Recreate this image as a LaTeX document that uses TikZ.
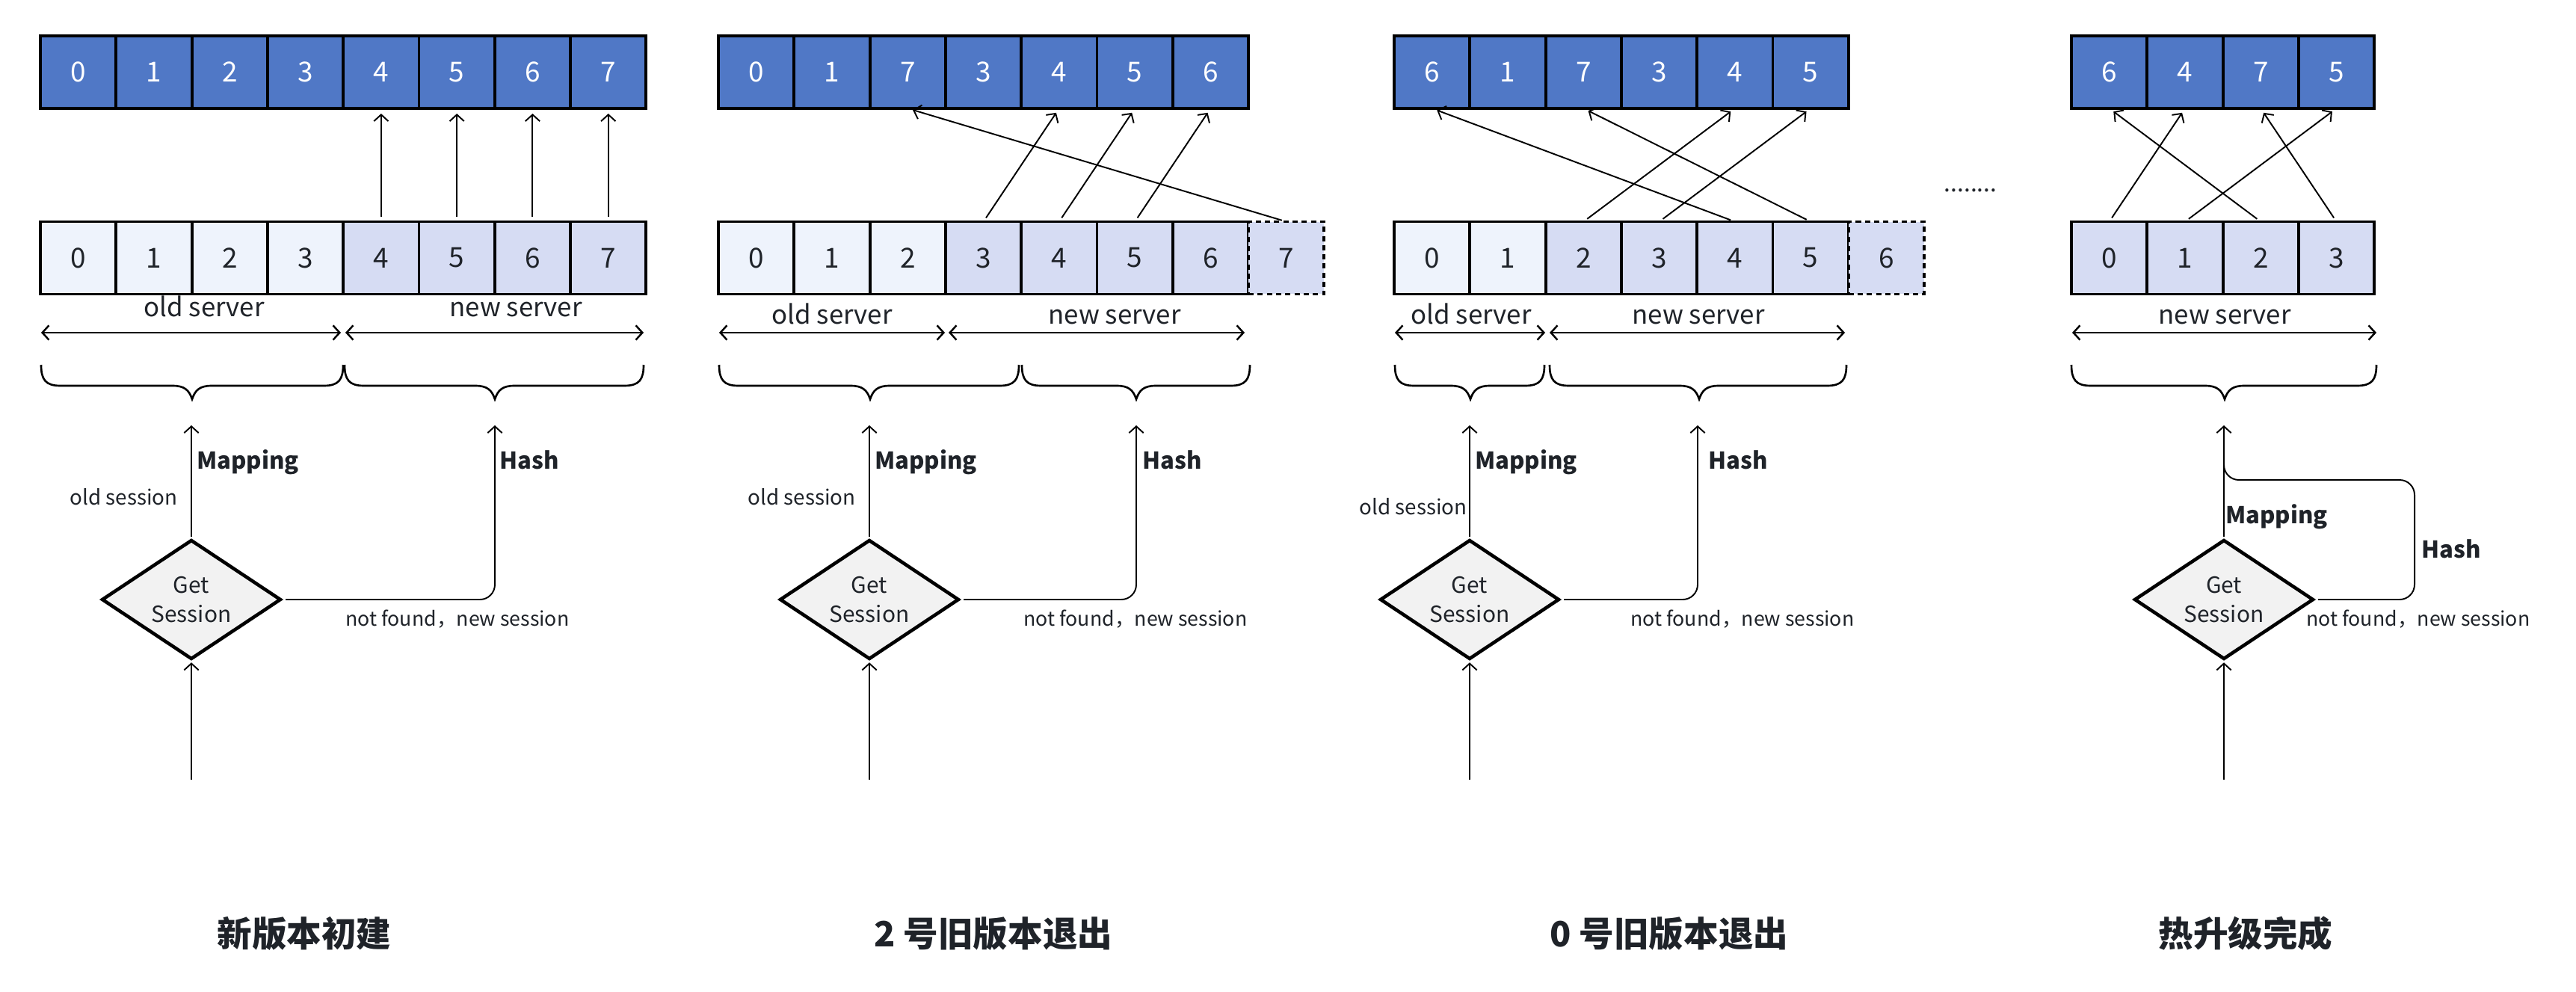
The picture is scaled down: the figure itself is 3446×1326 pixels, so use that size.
\documentclass[tikz,border=0pt]{standalone}
\usepackage{fontspec}
\setmainfont{Noto Sans CJK SC}
\usetikzlibrary{arrows.meta,shapes.geometric}
\definecolor{topblue}{HTML}{5078C6}
\definecolor{oldcell}{HTML}{EEF3FC}
\definecolor{newcell}{HTML}{D6DCF3}
\definecolor{diafill}{HTML}{F2F2F2}
\definecolor{ink}{HTML}{1F2329}
\tikzset{
  cell/.style={rectangle, draw=black, line width=2.2pt, minimum width=2.026cm, minimum height=1.94cm, inner sep=0pt, outer sep=0pt, font=\fontsize{21}{21}\selectfont},
  topcell/.style={cell, fill=topblue, text=white},
  oldc/.style={cell, fill=oldcell, text=ink},
  newc/.style={cell, fill=newcell, text=ink},
  dashc/.style={cell, fill=newcell, text=ink, dash pattern=on 4pt off 3pt},
  conn/.style={line width=1.1pt, -{Straight Barb[length=5pt,width=11pt]}},
  dbl/.style={line width=1.4pt, {Straight Barb[length=5pt,width=11pt]}-{Straight Barb[length=5pt,width=11pt]}},
  brc/.style={line width=1.5pt},
  decision/.style={diamond, draw=black, line width=2.6pt, fill=diafill, minimum width=4.76cm, minimum height=3.16cm, inner sep=0pt, outer sep=0pt, shape aspect=1.5, align=center, text=ink, font=\fontsize{17}{22.7}\selectfont},
  lab/.style={inner sep=0pt, text=ink, font=\fontsize{15.8}{19}\selectfont},
  nf/.style={inner sep=0pt, text=ink, font=\fontsize{15.2}{18}\selectfont},
  srv/.style={inner sep=0pt, text=ink, font=\fontsize{19.8}{22}\selectfont},
  bl/.style={inner sep=0pt, text=ink, font=\fontsize{17.7}{21}\selectfont\bfseries},
  ttl/.style={inner sep=0pt, text=ink, font=\fontsize{26.5}{30}\selectfont\bfseries},
}
\newcommand\mybrace[3]{\draw[brc] (#1,488) .. controls (#1,508) and (#1+6,516) .. (#1+26,516) -- (#3-26,516) .. controls (#3-10,516) and (#3-4,522) .. (#3,534) .. controls (#3+4,522) and (#3+10,516) .. (#3+26,516) -- (#2-26,516) .. controls (#2-6,516) and (#2,508) .. (#2,488);}
\begin{document}
\begin{tikzpicture}[x=0.02cm,y=-0.02cm]
\useasboundingbox[fill=white] (0,0) rectangle (3446,1326);

% ---------------- Panel 1 ----------------
\foreach \lab [count=\i from 0] in {0,1,2,3,4,5,6,7}
  \node[topcell] (p1t\i) at ({54+(\i+0.5)*101.3},96.5) {\lab};
\foreach \lab/\st [count=\i from 0] in {0/oldc,1/oldc,2/oldc,3/oldc,4/newc,5/newc,6/newc,7/newc}
  \node[\st] (p1b\i) at ({54+(\i+0.5)*101.3},345) {\lab};
\foreach \a/\b in {4/4,5/5,6/6,7/7}
  \draw[conn, shorten <=3.5pt, shorten >=4pt] (p1b\a.north) -- (p1t\b.south);
\node[srv, anchor=base] (p1old) at (273,423) {old server};
\node[srv, anchor=base] (p1new) at (690,423) {new server};
\coordinate (p1a0) at (55,445); \coordinate (p1a1) at (456,445);
\coordinate (p1a2) at (462,445); \coordinate (p1a3) at (861,445);
\draw[dbl] (p1a0) -- (p1a1);
\draw[dbl] (p1a2) -- (p1a3);
\mybrace{55}{459}{257}
\mybrace{461}{861}{662}
\node[decision] (d1) at (256,802) {Get\\Session};
\coordinate (m1) at (256,569);
\coordinate (h1) at (662,569);
\coordinate (s1) at (256,1043);
\draw[conn, shorten <=3pt] (d1.north) -- (m1);
\draw[conn, shorten <=4pt, rounded corners=0.4cm] (d1.east) -- (d1.east -| h1) -- (h1);
\draw[conn, shorten >=3pt] (s1) -- (d1.south);
\node[bl, anchor=base west] (p1map) at (263,627) {Mapping};
\node[bl, anchor=base west] (p1hash) at (668,627) {Hash};
\node[lab, anchor=base east] (p1os) at (238,675) {old session};
\node[nf, anchor=base west] (p1nf) at (462,837) {not found，new session};
\node[ttl] (p1title) at (407,1249) {新版本初建};

% ---------------- Panel 2 ----------------
\foreach \lab [count=\i from 0] in {0,1,7,3,4,5,6}
  \node[topcell] (p2t\i) at ({961+(\i+0.5)*101.3},96.5) {\lab};
\foreach \lab/\st [count=\i from 0] in {0/oldc,1/oldc,2/oldc,3/newc,4/newc,5/newc,6/newc,7/dashc}
  \node[\st] (p2b\i) at ({961+(\i+0.5)*101.3},345) {\lab};
\foreach \a/\b in {3/4,4/5,5/6,7/2}
  \draw[conn, shorten <=3.5pt, shorten >=4pt] (p2b\a.north) -- (p2t\b.south);
\node[srv, anchor=base] (p2old) at (1113,433) {old server};
\node[srv, anchor=base] (p2new) at (1491,433) {new server};
\coordinate (p2a0) at (962,445); \coordinate (p2a1) at (1264,445);
\coordinate (p2a2) at (1269,445); \coordinate (p2a3) at (1665,445);
\draw[dbl] (p2a0) -- (p2a1);
\draw[dbl] (p2a2) -- (p2a3);
\mybrace{962}{1363}{1164}
\mybrace{1367}{1672}{1520}
\node[decision] (d2) at (1163,802) {Get\\Session};
\coordinate (m2) at (1163,569);
\coordinate (h2) at (1520,569);
\coordinate (s2) at (1163,1043);
\draw[conn, shorten <=3pt] (d2.north) -- (m2);
\draw[conn, shorten <=4pt, rounded corners=0.4cm] (d2.east) -- (d2.east -| h2) -- (h2);
\draw[conn, shorten >=3pt] (s2) -- (d2.south);
\node[bl, anchor=base west] (p2map) at (1170,627) {Mapping};
\node[bl, anchor=base west] (p2hash) at (1528,627) {Hash};
\node[lab, anchor=base east] (p2os) at (1145,675) {old session};
\node[nf, anchor=base west] (p2nf) at (1369,837) {not found，new session};
\node[ttl] (p2title) at (1329,1249) {2 号旧版本退出};

% ---------------- Panel 3 ----------------
\foreach \lab [count=\i from 0] in {6,1,7,3,4,5}
  \node[topcell] (p3t\i) at ({1865+(\i+0.5)*101.3},96.5) {\lab};
\foreach \lab/\st [count=\i from 0] in {0/oldc,1/oldc,2/newc,3/newc,4/newc,5/newc,6/dashc}
  \node[\st] (p3b\i) at ({1865+(\i+0.5)*101.3},345) {\lab};
\foreach \a/\b in {2/4,3/5,4/0,5/2}
  \draw[conn, shorten <=3.5pt, shorten >=4pt] (p3b\a.north) -- (p3t\b.south);
\node[srv, anchor=base] (p3old) at (1968,433) {old server};
\node[srv, anchor=base] (p3new) at (2272,433) {new server};
\coordinate (p3a0) at (1866,445); \coordinate (p3a1) at (2067,445);
\coordinate (p3a2) at (2073,445); \coordinate (p3a3) at (2468,445);
\draw[dbl] (p3a0) -- (p3a1);
\draw[dbl] (p3a2) -- (p3a3);
\mybrace{1866}{2066}{1967}
\mybrace{2073}{2470}{2273}
\node[decision] (d3) at (1966,802) {Get\\Session};
\coordinate (m3) at (1966,569);
\coordinate (h3) at (2271,569);
\coordinate (s3) at (1966,1043);
\draw[conn, shorten <=3pt] (d3.north) -- (m3);
\draw[conn, shorten <=4pt, rounded corners=0.4cm] (d3.east) -- (d3.east -| h3) -- (h3);
\draw[conn, shorten >=3pt] (s3) -- (d3.south);
\node[bl, anchor=base west] (p3map) at (1973,627) {Mapping};
\node[bl, anchor=base west] (p3hash) at (2285,627) {Hash};
\node[lab, anchor=base east] (p3os) at (1963,688) {old session};
\node[nf, anchor=base west] (p3nf) at (2181,837) {not found，new session};
\node[ttl] (p3title) at (2233,1249) {0 号旧版本退出};

\node[inner sep=0pt, text=ink, font=\fontsize{18}{20}\selectfont, anchor=base] (dots) at (2636,256) {........};

% ---------------- Panel 4 ----------------
\foreach \lab [count=\i from 0] in {6,4,7,5}
  \node[topcell] (p4t\i) at ({2771+(\i+0.5)*101.3},96.5) {\lab};
\foreach \lab [count=\i from 0] in {0,1,2,3}
  \node[newc] (p4b\i) at ({2771+(\i+0.5)*101.3},345) {\lab};
\foreach \a/\b in {0/1,1/3,2/0,3/2}
  \draw[conn, shorten <=3.5pt, shorten >=4pt] (p4b\a.north) -- (p4t\b.south);
\node[srv, anchor=base] (p4new) at (2976,433) {new server};
\coordinate (p4a0) at (2772,445); \coordinate (p4a1) at (3179,445);
\draw[dbl] (p4a0) -- (p4a1);
\mybrace{2771}{3179}{2976}
\node[decision] (d4) at (2975,802) {Get\\Session};
\coordinate (m4) at (2975,569);
\coordinate (h4a) at (3230,642);
\coordinate (h4b) at (2975,642);
\coordinate (h4c) at (2975,600);
\coordinate (s4) at (2975,1043);
\draw[conn, shorten <=3pt] (d4.north) -- (m4);
\draw[line width=1.1pt, shorten <=4pt, rounded corners=0.4cm] (d4.east) -- (d4.east -| h4a) -- (h4a) -- (h4b) -- (h4c);
\draw[conn, shorten >=3pt] (s4) -- (d4.south);
\node[bl, anchor=base west] (p4map) at (2977,700) {Mapping};
\node[bl, anchor=base west] (p4hash) at (3239,746) {Hash};
\node[nf, anchor=base west] (p4nf) at (3085,837) {not found，new session};
\node[ttl] (p4title) at (3004,1249) {热升级完成};
\end{tikzpicture}
\end{document}
